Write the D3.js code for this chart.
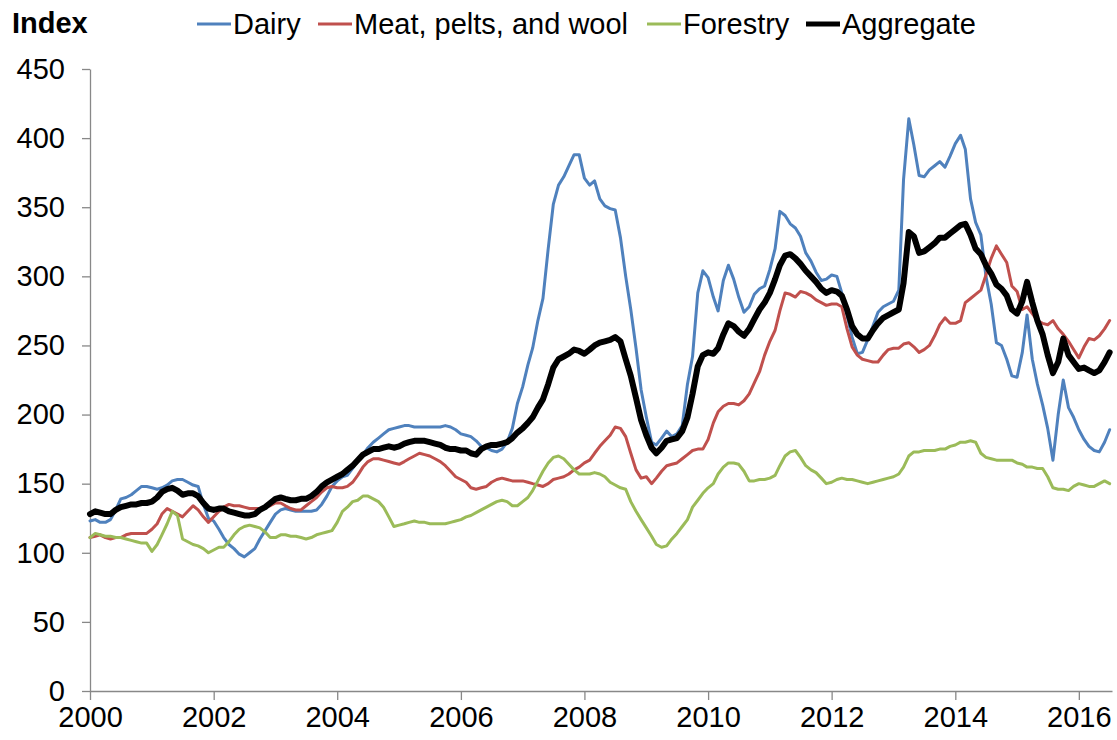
<!DOCTYPE html>
<html>
<head>
<meta charset="utf-8">
<script src="https://cdn.jsdelivr.net/npm/d3@7"></script>
<style>
  body { margin: 0; background: #fff; }
  svg text { font-family: "Liberation Sans", Arial, sans-serif; fill: #000; }
</style>
</head>
<body>
<svg id="chart"></svg>
<script>
// Monthly index values, Jan 2000 onwards
const startYear = 2000;

const dairy = [
  123,124,122,122,124,131,139,140,142,145,
  148,148,147,146,147,149,152,153,153,151,
  149,148,135,125,123,117,111,106,103,99,
  97,100,103,110,116,122,128,131,132,131,
  130,130,130,130,131,135,141,148,152,155,
  156,161,167,171,176,180,183,186,189,190,
  191,192,192,191,191,191,191,191,191,192,
  191,189,186,185,184,181,177,176,174,173,
  175,180,190,208,220,236,248,268,284,320,
  352,366,372,380,388,388,371,366,369,356,
  351,349,348,328,300,276,248,218,198,180,
  178,183,188,184,186,192,222,242,288,304,
  299,285,275,297,308,298,285,274,278,287,
  291,293,305,320,347,344,338,335,329,317,
  311,303,297,298,301,300,288,272,256,244,
  245,254,264,274,278,280,282,290,370,414,
  395,373,372,377,380,383,379,387,396,402,
  392,356,339,330,300,280,252,250,240,228,
  227,245,272,240,222,207,190,167,200,225,
  205,198,189,182,177,174,173,180,189
];

const meat = [
  111,112,113,111,110,111,111,113,114,114,
  114,114,117,121,128,132,130,128,126,130,
  134,131,126,122,126,130,133,135,134,134,
  133,132,132,132,133,134,136,136,134,132,
  131,131,134,137,140,144,147,148,147,147,
  148,151,156,162,166,168,168,167,166,165,
  164,166,168,170,172,171,170,168,166,163,
  159,155,153,151,147,146,147,148,151,153,
  154,153,152,152,152,151,150,149,148,150,
  153,154,155,157,160,162,165,167,172,177,
  181,185,191,190,184,172,160,154,155,150,
  154,159,163,164,165,168,171,174,175,175,
  182,194,202,206,208,208,207,210,215,223,
  231,243,253,261,275,288,287,285,289,288,
  286,283,281,279,280,280,278,262,249,243,
  240,239,238,238,243,247,248,248,251,252,
  249,245,247,250,257,265,270,266,266,268,
  281,284,287,290,301,313,322,316,310,293,
  289,276,278,273,268,266,265,268,262,258,
  253,247,241,249,255,254,257,262,268
];

const forestry = [
  111,114,113,112,112,111,111,110,109,108,
  107,107,101,106,113,121,130,127,110,108,
  106,105,103,100,102,104,104,108,113,117,
  119,120,119,118,115,111,111,113,113,112,
  112,111,110,111,113,114,115,116,122,130,
  133,137,138,141,141,139,137,133,126,119,
  120,121,122,123,122,122,121,121,121,121,
  122,123,124,126,127,129,131,133,135,137,
  138,137,134,134,137,140,145,152,159,165,
  169,170,168,164,160,157,157,157,158,157,
  155,151,149,147,146,137,130,124,118,112,
  106,104,105,110,114,119,124,133,138,143,
  147,150,157,162,165,165,164,159,152,152,
  153,153,154,156,163,170,173,174,169,163,
  160,158,154,150,151,153,154,153,153,152,
  151,150,151,152,153,154,155,157,162,170,
  173,173,174,174,174,175,175,177,178,180,
  180,181,180,172,169,168,167,167,167,167,
  165,164,162,162,161,161,155,147,146,146,
  145,148,150,149,148,148,150,152,150
];

const aggregate = [
  128,130,129,128,128,131,133,134,135,135,
  136,136,137,140,144,146,147,145,142,143,
  143,141,136,132,131,132,132,130,129,128,
  127,127,128,131,133,136,139,140,139,138,
  138,139,139,141,144,148,151,153,155,157,
  160,163,167,171,173,175,175,176,177,176,
  177,179,180,181,181,181,180,179,178,176,
  175,175,174,174,172,171,175,177,178,178,
  179,180,183,187,190,194,198,205,211,222,
  234,240,242,244,247,246,244,247,250,252,
  253,254,256,253,240,228,212,196,185,176,
  172,176,181,182,183,188,198,215,235,243,
  245,244,248,258,266,264,260,257,262,269,
  276,281,288,298,308,315,316,313,309,304,
  300,296,291,288,290,289,286,276,264,258,
  255,255,261,266,270,272,274,276,295,332,
  329,317,318,321,324,328,328,331,334,337,
  338,330,320,316,308,302,294,291,286,276,
  273,282,296,281,268,258,243,230,238,255,
  243,238,233,234,232,230,232,238,245
];

const seriesNames = ["Dairy", "Meat, pelts, and wool", "Forestry", "Aggregate"];
const seriesValues = [dairy, meat, forestry, aggregate];
const seriesColors = ["#4F81BD", "#C0504D", "#9BBB59", "#000000"];
const seriesWidths = [3, 3, 3, 6];

const yTicks = [0, 50, 100, 150, 200, 250, 300, 350, 400, 450];
const xTickYears = [2000, 2002, 2004, 2006, 2008, 2010, 2012, 2014, 2016];

// SVG setup
const width = 1117;
const height = 740;
const svg = d3.select("#chart").attr("width", width).attr("height", height);

const x = d3.scaleTime()
  .domain([new Date(2000, 0, 1), new Date(2016, 6, 15)])
  .range([90, 1112]);

const y = d3.scaleLinear()
  .domain([0, 450])
  .range([691, 69]);

const axisColor = "#888";

// Y axis
const yAxis = svg.append("g")
  .attr("transform", "translate(90,0)")
  .call(d3.axisLeft(y).tickValues(yTicks).tickSize(8).tickSizeOuter(0).tickPadding(17));
yAxis.select(".domain").attr("stroke", axisColor).attr("stroke-width", 1.3);
yAxis.selectAll(".tick line").attr("stroke", axisColor).attr("stroke-width", 1.3);
yAxis.selectAll("text")
  .style("font-size", "29px")
  .attr("fill", "#000");

// X axis
const xAxis = svg.append("g")
  .attr("transform", "translate(0,691)")
  .call(d3.axisBottom(x)
    .tickValues(xTickYears.map(yr => new Date(yr, 0, 1)))
    .tickFormat(d3.timeFormat("%Y"))
    .tickSize(9).tickSizeOuter(0).tickPadding(6));
xAxis.select(".domain").attr("stroke", axisColor).attr("stroke-width", 1.3);
xAxis.selectAll(".tick line").attr("stroke", axisColor).attr("stroke-width", 1.3);
xAxis.selectAll("text")
  .style("font-size", "29px")
  .attr("fill", "#000");

// Lines
const line = d3.line()
  .x((d, i) => x(new Date(startYear, i, 1)))
  .y(d => y(d));

svg.selectAll("path.series")
  .data(seriesValues)
  .enter()
  .append("path")
  .attr("class", "series")
  .attr("d", d => line(d))
  .attr("fill", "none")
  .attr("stroke", (d, i) => seriesColors[i])
  .attr("stroke-width", (d, i) => seriesWidths[i])
  .attr("stroke-linejoin", "round")
  .attr("stroke-linecap", "round");

// Y title
svg.append("text")
  .attr("x", 12)
  .attr("y", 33)
  .style("font-size", "29px")
  .style("font-weight", "bold")
  .text("Index");

// Legend
const legendX = [197, 318, 647, 806];
const legend = svg.selectAll("g.legend")
  .data(seriesNames)
  .enter()
  .append("g")
  .attr("class", "legend")
  .attr("transform", (d, i) => `translate(${legendX[i]},24)`);

legend.append("line")
  .attr("x1", 0).attr("x2", 34)
  .attr("y1", 0).attr("y2", 0)
  .attr("stroke", (d, i) => seriesColors[i])
  .attr("stroke-width", (d, i) => seriesWidths[i] === 6 ? 5 : 3);

legend.append("text")
  .attr("x", 36)
  .attr("y", 10)
  .style("font-size", "29px")
  .text(d => d);
</script>
</body>
</html>
